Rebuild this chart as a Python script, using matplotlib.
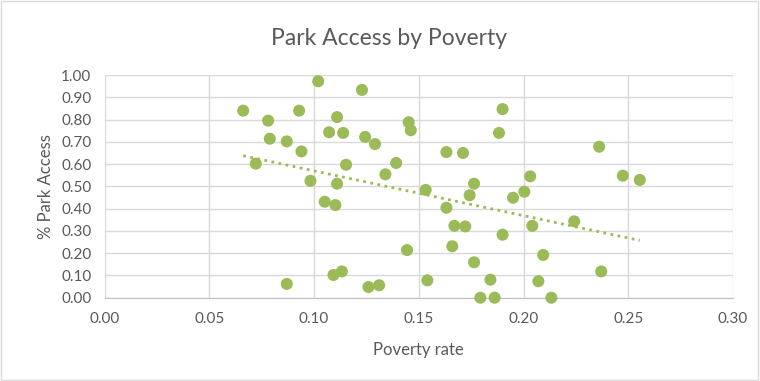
import numpy as np
import matplotlib.pyplot as plt
from matplotlib.patches import Rectangle

plt.rcParams["font.family"] = ["Lato", "DejaVu Sans"]

# poverty rate vs share of park access
poverty = [
    0.0662, 0.0781, 0.0789, 0.0870, 0.0929, 0.0940, 0.0722, 0.0983, 0.0870, 0.1020,
    0.1229, 0.1110, 0.1072, 0.1139, 0.1244, 0.1291, 0.1452, 0.1462, 0.1153, 0.1392,
    0.1341, 0.1110, 0.1051, 0.1102, 0.1444, 0.1093, 0.1133, 0.1260, 0.1311, 0.1541,
    0.1533, 0.1632, 0.1711, 0.1900, 0.1883, 0.1764, 0.1743, 0.1632, 0.1670, 0.1722,
    0.1660, 0.1764, 0.1900, 0.1842, 0.1794, 0.1862, 0.2133, 0.1950, 0.2004, 0.2032,
    0.2042, 0.2094, 0.2071, 0.2361, 0.2474, 0.2555, 0.2242, 0.2371,
]
park_access = [
    0.840, 0.795, 0.714, 0.702, 0.840, 0.657, 0.602, 0.525, 0.062, 0.972,
    0.933, 0.811, 0.743, 0.740, 0.722, 0.690, 0.788, 0.752, 0.597, 0.605,
    0.554, 0.512, 0.431, 0.416, 0.214, 0.102, 0.118, 0.048, 0.056, 0.078,
    0.484, 0.654, 0.650, 0.847, 0.740, 0.512, 0.460, 0.404, 0.323, 0.320,
    0.231, 0.159, 0.283, 0.081, 0.000, 0.000, 0.000, 0.449, 0.476, 0.545,
    0.323, 0.192, 0.074, 0.678, 0.548, 0.529, 0.343, 0.118,
]

GREEN = "#9BBB59"
TEXT = "#595959"
GRID = "#D9D9D9"

fig = plt.figure(figsize=(7.6, 3.81), dpi=100)
ax = fig.add_axes([0.1375, 0.2186, 0.827, 0.5845])

x = np.array(poverty)
y = np.array(park_access)
ax.scatter(x, y, s=75, color=GREEN, edgecolor="none", zorder=3, clip_on=False)

# linear trendline, like Excel's
slope, icpt = np.polyfit(x, y, 1)
xs = np.array([x.min(), x.max()])
ax.plot(xs, slope * xs + icpt, color=GREEN, lw=2, ls=(0, (1, 1.6)), zorder=2)

ax.set_xlim(0, 0.30)
ax.set_ylim(0, 1.0)
ax.set_xticks(np.arange(0, 0.301, 0.05))
ax.set_yticks(np.arange(0, 1.001, 0.1))
ax.xaxis.set_major_formatter(plt.FuncFormatter(lambda v, p: f"{v:.2f}"))
ax.yaxis.set_major_formatter(plt.FuncFormatter(lambda v, p: f"{v:.2f}"))
ax.grid(True, color=GRID, lw=1)
ax.set_axisbelow(True)
for s in ("top", "right", "left"):
    ax.spines[s].set_visible(False)
ax.spines["bottom"].set_color("#BFBFBF")
ax.tick_params(length=0, labelsize=11, colors=TEXT)
ax.tick_params(axis="x", pad=10)
ax.tick_params(axis="y", pad=9.5)

fig.text(0.512, 0.900, "Park Access by Poverty", fontsize=16.5, color=TEXT,
         ha="center", va="center")
ax.set_xlabel("Poverty rate", fontsize=12, color=TEXT, labelpad=12)
ax.set_ylabel("% Park Access", fontsize=12, color=TEXT, labelpad=5)

fig.patches.append(Rectangle((0.001, 0.002), 0.997, 0.996, transform=fig.transFigure,
                             fill=False, edgecolor=GRID, lw=1))

fig.savefig("out.png", dpi=100)
